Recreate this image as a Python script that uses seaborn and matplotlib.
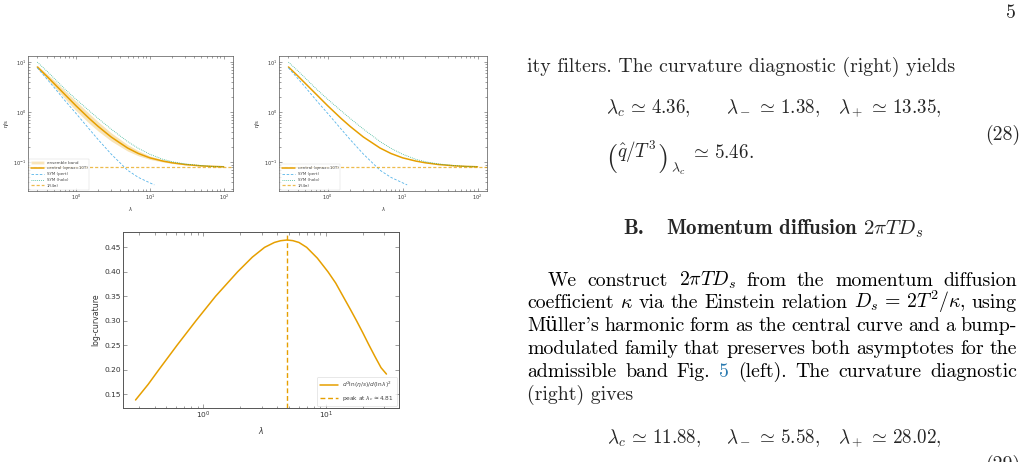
import numpy as np
import pandas as pd
import matplotlib
matplotlib.use("Agg")
import matplotlib.pyplot as plt
from matplotlib.lines import Line2D
from matplotlib.patches import Patch
import seaborn as sns

# ---------------- data ----------------
lam = [0.3, 0.4, 0.5, 0.7, 1.0, 1.5, 2.0, 3.0, 5.0, 7.0, 10, 15, 20, 30, 50, 70, 100]
central = [8.0, 5.3, 3.8, 2.3, 1.35, 0.76, 0.52, 0.32, 0.193, 0.150, 0.123, 0.106, 0.098, 0.0905, 0.085, 0.083, 0.0815]
band_lo = [7.44, 4.77, 3.31, 1.91, 1.08, 0.608, 0.421, 0.266, 0.168, 0.135, 0.1144, 0.1012, 0.0951, 0.0887, 0.0842, 0.0824, 0.0813]
band_hi = [8.64, 5.94, 4.41, 2.76, 1.67, 0.95, 0.645, 0.387, 0.226, 0.170, 0.134, 0.1124, 0.1024, 0.0932, 0.0863, 0.0838, 0.0819]
holo = [10.0, 6.7, 4.85, 2.95, 1.82, 1.08, 0.75, 0.46, 0.26, 0.19, 0.145, 0.115, 0.103, 0.093, 0.086, 0.083, 0.081]
lam_pert = [0.3, 0.4, 0.5, 0.7, 1.0, 1.5, 2.0, 3.0, 5.0, 7.0, 10, 11.5]
pert = [7.7, 4.7, 3.2, 1.75, 0.95, 0.468, 0.284, 0.146, 0.0695, 0.050, 0.039, 0.0355]
kss = 0.0796  # 1/(4 pi)

lam_curv = [0.28, 0.355, 0.434, 0.611, 0.871, 1.259, 1.905, 2.512, 3.162, 3.802, 4.266, 4.81,
            5.37, 6.026, 6.966, 8.511, 10.40, 12.02, 13.80, 15.85, 17.78, 19.95, 22.39,
            25.12, 28.18, 31.19]
curv = [0.138, 0.170, 0.200, 0.250, 0.300, 0.350, 0.400, 0.430, 0.450, 0.460, 0.4635, 0.465,
        0.4637, 0.460, 0.450, 0.428, 0.400, 0.377, 0.350, 0.323, 0.300, 0.276, 0.251,
        0.227, 0.204, 0.191]
peak_lambda = 4.81

# ---------------- style ----------------
sns.set_theme(style="ticks")
plt.rcParams["font.family"] = ["DejaVu Sans"]
plt.rcParams["mathtext.fontset"] = "dejavusans"

ORANGE = "#E69F00"
BLUE = "#56B4E9"
GREEN = "#009E73"

W, H = 1025, 462
fig = plt.figure(figsize=(W / 100, H / 100), dpi=100)
fig.patch.set_facecolor("white")


def style(ax, fs, lmaj, lmin, lw=0.5):
    ax.tick_params(which="both", direction="in", top=True, right=True,
                   color="#555555", labelcolor="#333333", labelsize=fs, width=0.4)
    ax.tick_params(which="major", length=lmaj, pad=1.5)
    ax.tick_params(which="minor", length=lmin)
    for s in ax.spines.values():
        s.set_linewidth(lw)
        s.set_color("#555555")
    ax.set_facecolor("white")


KSS_LS = (0, (2.5, 1.6))


def eta_panel(ax, with_band):
    handles = []
    if with_band:
        ax.fill_between(lam, band_lo, band_hi, color=ORANGE, alpha=0.28, lw=0)
        handles.append(Patch(facecolor=ORANGE, alpha=0.28, label="ensemble band"))
    sns.lineplot(x=lam, y=central, ax=ax, color=ORANGE, lw=1.1, legend=False)
    sns.lineplot(x=lam_pert, y=pert, ax=ax, color=BLUE, lw=0.6, ls=(0, (3, 2)), legend=False)
    sns.lineplot(x=lam, y=holo, ax=ax, color=GREEN, lw=0.6, ls=(0, (1, 1.3)), alpha=0.75, legend=False)
    ax.axhline(kss, color=ORANGE, lw=0.9, ls=KSS_LS, alpha=0.7)
    ax.set_xscale("log")
    ax.set_yscale("log")
    handles += [Line2D([], [], color=ORANGE, lw=1.1, label="central (qmax=10T)"),
                Line2D([], [], color=BLUE, lw=0.6, ls=(0, (3, 2)), label="SYM (pert)"),
                Line2D([], [], color=GREEN, lw=0.6, ls=(0, (1, 1.3)), alpha=0.75, label="SYM (holo)"),
                Line2D([], [], color=ORANGE, lw=0.9, ls=KSS_LS, alpha=0.7, label="1/(4π)")]
    leg = ax.legend(handles=handles, loc="lower left", fontsize=2.9, frameon=True,
                    handlelength=3.2, borderpad=0.5, labelspacing=0.45, borderaxespad=0.3,
                    handletextpad=0.6)
    leg.get_frame().set_linewidth(0.3)
    leg.get_frame().set_edgecolor("#cccccc")
    for t in leg.get_texts():
        t.set_color("#444444")
    style(ax, 3.6, 2.0, 1.2)
    ax.set_xlabel(r"$\lambda$", fontsize=3.8, labelpad=2, color="#333333")
    ax.set_ylabel("η/s", fontsize=3.8, labelpad=3, color="#333333")


ax1 = fig.add_axes([28 / W, 1 - 191 / H, 205 / W, 135 / H])
eta_panel(ax1, True)
ax2 = fig.add_axes([279 / W, 1 - 191 / H, 208 / W, 135 / H])
eta_panel(ax2, False)

ax3 = fig.add_axes([123 / W, 1 - 408 / H, 276 / W, 176 / H])
sns.lineplot(x=lam_curv, y=curv, ax=ax3, color=ORANGE, lw=1.1, legend=False)
ax3.axvline(peak_lambda, color=ORANGE, lw=1.0, ls=(0, (3.5, 2)))
ax3.set_xscale("log")
h3 = [Line2D([], [], color=ORANGE, lw=1.1, label=r"$d^2\ln(\eta/s)/d(\ln\lambda)^2$"),
      Line2D([], [], color=ORANGE, lw=1.0, ls=(0, (3.5, 2)),
             label=r"peak at $\lambda_c \approx %.2f$" % peak_lambda)]
leg3 = ax3.legend(handles=h3, loc="lower right", fontsize=4.2, frameon=True,
                  handlelength=3.0, borderpad=0.5, labelspacing=0.6, borderaxespad=0.4)
leg3.get_frame().set_linewidth(0.4)
leg3.get_frame().set_edgecolor("#cccccc")
for t in leg3.get_texts():
    t.set_color("#444444")
style(ax3, 5.4, 3.0, 1.8, lw=0.7)
ax3.set_xlabel(r"$\lambda$", fontsize=5.6, labelpad=2.5, color="#333333")
ax3.set_ylabel("log-curvature", fontsize=5.6, labelpad=3, color="#333333")

# ---------------- page text ----------------
SERIF = ["cmr10", "DejaVu Serif"]
BOLD = ["cmb10", "DejaVu Serif"]
FS = 14.3
EQ = 13.7


def put(x, y, s, family=SERIF, fs=FS, **kw):
    return fig.text(x / W, 1 - y / H, s, fontsize=fs, family=family, va="baseline",
                    math_fontfamily="cm", **kw)


renderer = fig.canvas.get_renderer()


def justify(tokens, x0, x1, y, colors=None):
    colors = colors or {}
    ts = [put(0, y, tok, color=colors.get(i, "black")) for i, tok in enumerate(tokens)]
    widths = [t.get_window_extent(renderer).width for t in ts]
    gap = (x1 - x0 - sum(widths)) / (len(ts) - 1)
    x = x0
    for t, w in zip(ts, widths):
        t.set_x(x / W)
        x += w + gap


put(1016, 18, "5", ha="right")
put(527, 72, "ity filters. The curvature diagnostic (right) yields")
put(606, 113, r"$\lambda_c \,\simeq\, 4.36,$", fs=EQ)
put(726, 113, r"$\lambda_- \,\simeq\, 1.38,$", fs=EQ)
put(838, 113, r"$\lambda_+ \,\simeq\, 13.35,$", fs=EQ)
# (q^/T^3)_{lambda_c} ~ 5.46.  with tall parentheses
put(606, 166, "(", fs=21)
put(617, 158, r"$\hat{q}/T^3$", fs=EQ)
put(657, 166, ")", fs=21)
put(671, 173, r"$\lambda_c$", fs=10)
put(690, 158, r"$\simeq\, 5.46.$", fs=EQ)
put(1020, 140, "(28)", ha="right")

put(623, 234, "B.", family=BOLD, fs=15.0)
put(666, 234, r"Momentum diffusion $2\pi TD_s$", family=BOLD, fs=15.0)

para = [
    (548, ["We", "construct", r"$2\pi TD_s$", "from", "the", "momentum", "diffusion"], None),
    (527, ["coefficient", r"$\kappa$", "via", "the", "Einstein", "relation", r"$D_s \,=\, 2T^2/\kappa$,", "using"], None),
    (527, ["Müller's", "harmonic", "form", "as", "the", "central", "curve", "and", "a", "bump-"], None),
    (527, ["modulated", "family", "that", "preserves", "both", "asymptotes", "for", "the"], None),
    (527, ["admissible", "band", "Fig.", "5", "(left).", "The", "curvature", "diagnostic"], {3: "#2a7ab0"}),
]
y = 285.5
for x0, toks, cols in para:
    justify(toks, x0, 1017, y, cols)
    y += 22.8
put(527, y, "(right) gives")

put(607, 443, r"$\lambda_c \,\simeq\, 11.88,$", fs=EQ)
put(726, 443, r"$\lambda_- \,\simeq\, 5.58,$", fs=EQ)
put(838, 443, r"$\lambda_+ \,\simeq\, 28.02,$", fs=EQ)
put(1020, 470, "(29)", ha="right")

fig.savefig("out.png", dpi=100, facecolor="white")
